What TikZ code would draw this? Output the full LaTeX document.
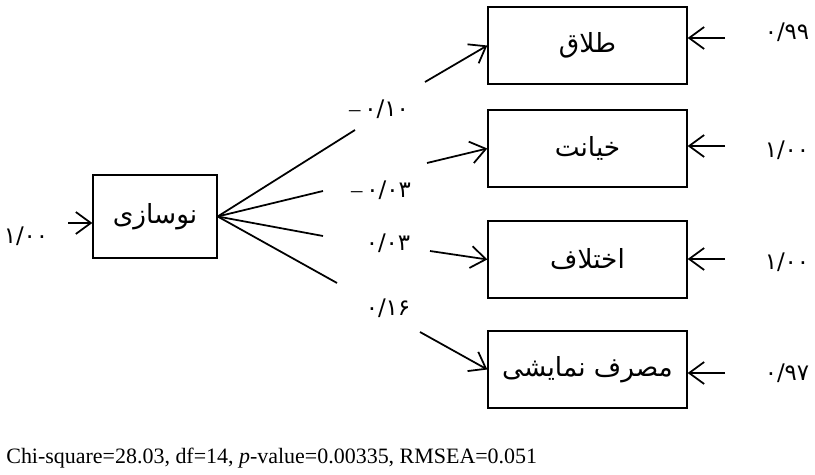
\documentclass[tikz,border=0pt]{standalone}
\usepackage{fontspec}
\setmainfont{Liberation Serif}
\newfontfamily\farsi[Script=Arabic]{DejaVu Sans}
\TeXXeTstate=1
\usetikzlibrary{arrows.meta}
\newcommand{\fa}[1]{{\farsi\beginR #1\endR}}
\newcommand{\fanum}[1]{{\farsi #1}}
\tikzset{
	var/.style={draw,line width=0.8pt,minimum width=3.98cm,minimum height=1.54cm,font=\fontsize{15}{18}\selectfont},
	coef/.style={font=\fontsize{13}{15}\selectfont,inner sep=0pt},
	arr/.style={line width=1pt,-{Straight Barb[length=3mm,width=4.4mm]}}
}
\begin{document}
\begin{tikzpicture}[x=0.02cm,y=-0.02cm]
	\useasboundingbox (0,0) rectangle (815,475);
	\node[var,minimum width=2.48cm,minimum height=1.66cm] (nos) at (155,216.5) {\fa{نوسازی}};
	\node[var] (talaq) at (587.5,45.5) {\fa{طلاق}};
	\node[var] (khianat) at (587.5,148.5) {\fa{خیانت}};
	\node[var] (ekhtelaf) at (587.5,259.5) {\fa{اختلاف}};
	\node[var] (masraf) at (587.5,369.5) {\fa{مصرف نمایشی}};
	% paths from nos
	\coordinate (t1) at (355,130);
	\coordinate (h1) at (425,82);
	\coordinate (t2) at (323,191);
	\coordinate (h2) at (427,163);
	\coordinate (t3) at (323,236);
	\coordinate (h3) at (430,251);
	\coordinate (t4) at (337,283);
	\coordinate (h4) at (420,332);
	\draw[line width=1pt] (nos.east) -- (t1);
	\draw[line width=1pt] (nos.east) -- (t2);
	\draw[line width=1pt] (nos.east) -- (t3);
	\draw[line width=1pt] (nos.east) -- (t4);
	\draw[arr] (h1) -- (talaq.west);
	\draw[arr] (h2) -- (khianat.west);
	\draw[arr] (h3) -- (ekhtelaf.west);
	\draw[arr] (h4) -- (masraf.west);
	\node[coef] (c1) at (379,109) {--\,\fanum{۰/۱۰}};
	\node[coef] (c2) at (381,190) {--\,\fanum{۰/۰۳}};
	\node[coef] (c3) at (388,243) {\fanum{۰/۰۳}};
	\node[coef] (c4) at (388,308) {\fanum{۰/۱۶}};
	% error terms
	\coordinate (s0) at (68,223);
	\coordinate (s1) at (725,38);
	\coordinate (s2) at (725,146);
	\coordinate (s3) at (725,259);
	\coordinate (s4) at (725,373);
	\draw[arr] (s0) -- (s0 -| nos.west);
	\draw[arr] (s1) -- (s1 -| talaq.east);
	\draw[arr] (s2) -- (s2 -| khianat.east);
	\draw[arr] (s3) -- (s3 -| ekhtelaf.east);
	\draw[arr] (s4) -- (s4 -| masraf.east);
	\node[coef] (e0) at (26,236) {\fanum{۱/۰۰}};
	\node[coef] (e1) at (787,32) {\fanum{۰/۹۹}};
	\node[coef] (e2) at (787,150) {\fanum{۱/۰۰}};
	\node[coef] (e3) at (787,262) {\fanum{۱/۰۰}};
	\node[coef] (e4) at (787,373) {\fanum{۰/۹۷}};
	\node[anchor=west,inner sep=0pt,font=\fontsize{12.5}{15}\selectfont] (fit) at (6,458) {Chi-square=28.03, df=14, \textit{p}-value=0.00335, RMSEA=0.051};
\end{tikzpicture}
\end{document}
